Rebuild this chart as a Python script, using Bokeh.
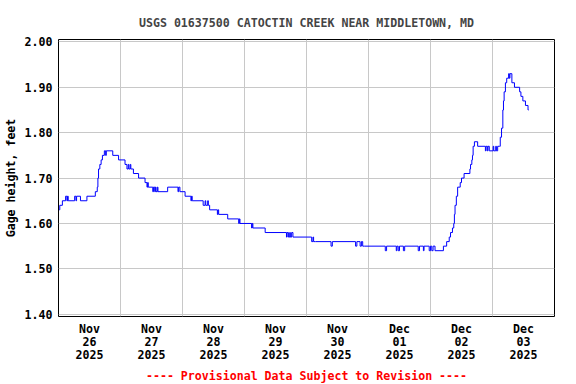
from bokeh.plotting import figure
from bokeh.models import FixedTicker, Title, NumeralTickFormatter, Range1d
from bokeh.embed import file_html
from bokeh.resources import INLINE

# hours since 2025-11-26 00:00 and gage height (ft), step series
hours = [0.25, 0.5, 1.5, 2.75, 3.25, 3.5, 3.75, 6.25, 6.75, 7.0, 8.5, 11.0, 14.25,
         15.0, 15.25, 15.5, 16.0, 16.5, 17.0, 17.75, 18.25, 18.5, 21.0, 23.25,
         25.75, 26.5, 27.0, 27.25, 27.75, 28.0, 29.0, 31.0, 33.5, 34.25, 34.5, 34.75,
         36.5, 36.75, 37.25, 37.5, 37.75, 38.25, 38.5, 42.25, 46.25, 46.5, 47.0,
         49.0, 51.25, 51.5, 51.75, 56.0, 56.75, 57.0, 57.75, 58.0, 58.5, 61.5, 61.75,
         62.0, 65.5, 69.75, 70.0, 70.25, 74.75, 75.0, 75.25, 80.0, 88.25, 88.5, 89.0,
         89.5, 89.75, 90.25, 90.75, 98.0, 98.5, 98.75, 99.5, 105.5, 106.0, 115.0, 115.5,
         116.75, 117.25, 117.75, 118.5, 126.5, 127.0, 130.75, 131.0, 131.5, 132.0,
         133.5, 134.0, 139.25, 139.75, 141.25, 141.5, 143.5, 144.0, 144.5, 145.0,
         145.75, 149.0, 150.25, 151.25, 151.75, 152.5, 153.0, 153.25, 153.5, 154.0,
         154.5, 155.5, 156.0, 157.0, 159.25, 159.5, 160.0, 160.25, 160.5, 161.0,
         162.25, 165.25, 165.5, 166.0, 166.25, 166.75, 168.25, 168.5, 169.25, 169.5,
         170.0, 170.75, 171.0, 171.5, 172.0, 172.25, 172.5, 173.0, 173.5, 174.25,
         174.5, 174.75, 175.5, 176.5, 178.5, 179.0, 179.75, 180.75, 181.75, 182.0]
gage = [1.63, 1.64, 1.65, 1.66, 1.65, 1.66, 1.65, 1.66, 1.65, 1.66, 1.65, 1.66, 1.67,
        1.68, 1.70, 1.72, 1.73, 1.74, 1.75, 1.76, 1.75, 1.76, 1.75, 1.74,
        1.73, 1.72, 1.73, 1.72, 1.73, 1.72, 1.71, 1.70, 1.69, 1.68, 1.69, 1.68,
        1.67, 1.68, 1.67, 1.68, 1.67, 1.68, 1.67, 1.68, 1.67, 1.68, 1.67,
        1.66, 1.65, 1.66, 1.65, 1.64, 1.65, 1.64, 1.65, 1.64, 1.63, 1.62, 1.63,
        1.62, 1.61, 1.60, 1.61, 1.60, 1.59, 1.60, 1.59, 1.58, 1.57, 1.58, 1.57,
        1.58, 1.57, 1.58, 1.57, 1.56, 1.57, 1.56, 1.56, 1.55, 1.56, 1.55, 1.56,
        1.55, 1.56, 1.55, 1.55, 1.54, 1.55, 1.54, 1.55, 1.54, 1.55,
        1.54, 1.55, 1.54, 1.55, 1.54, 1.55, 1.54, 1.55, 1.54, 1.55,
        1.54, 1.55, 1.56, 1.57, 1.58, 1.59, 1.60, 1.62, 1.64, 1.66,
        1.68, 1.69, 1.70, 1.71, 1.72, 1.73, 1.74, 1.75, 1.77, 1.78,
        1.77, 1.76, 1.77, 1.76, 1.77, 1.76, 1.77, 1.76, 1.77, 1.76,
        1.77, 1.77, 1.79, 1.81, 1.85, 1.87, 1.89, 1.91, 1.92, 1.93,
        1.92, 1.93, 1.91, 1.90, 1.89, 1.88, 1.87, 1.86, 1.85, 1.85]

day_labels = ["Nov\n26\n2025", "Nov\n27\n2025", "Nov\n28\n2025", "Nov\n29\n2025",
              "Nov\n30\n2025", "Dec\n01\n2025", "Dec\n02\n2025", "Dec\n03\n2025"]
y_ticks = [1.40, 1.50, 1.60, 1.70, 1.80, 1.90, 2.00]

FONT = "DejaVu Sans Mono"
FS = "11.6px"

p = figure(frame_width=496, frame_height=277,
           output_backend="svg", toolbar_location=None,
           x_range=Range1d(0, 192), y_range=Range1d(1.395, 2.0053),
           min_border_left=52, min_border_right=12, min_border_top=39, min_border_bottom=0)

p.title.text = "USGS 01637500 CATOCTIN CREEK NEAR MIDDLETOWN, MD"
p.title.align = "center"
p.title.text_font = FONT
p.title.text_font_size = FS
p.title.text_font_style = "bold"
p.title.offset = 0
p.title.standoff = 20

p.step(hours, gage, mode="after", line_color="#0000ff", line_width=1)

tick_pos = [12 + 24 * i for i in range(len(day_labels))]
p.xaxis.ticker = FixedTicker(ticks=tick_pos)
p.xaxis.major_label_overrides = {t: lab for t, lab in zip(tick_pos, day_labels)}
p.xgrid.ticker = FixedTicker(ticks=[24 * i for i in range(1, 8)])
p.yaxis.ticker = FixedTicker(ticks=y_ticks)
p.yaxis.formatter = NumeralTickFormatter(format="0.00")
p.yaxis.axis_label = "Gage height, feet"

for ax in (p.xaxis[0], p.yaxis[0]):
    ax.axis_line_color = None
    ax.major_tick_line_color = None
    ax.minor_tick_line_color = None
    ax.major_tick_out = 0
    ax.major_tick_in = 0
    ax.minor_tick_out = 0
    ax.minor_tick_in = 0
    ax.major_label_text_font = FONT
    ax.major_label_text_font_size = FS
    ax.major_label_text_font_style = "bold"
    ax.major_label_text_color = "black"
    ax.axis_label_text_font = FONT
    ax.axis_label_text_font_size = FS
    ax.axis_label_text_font_style = "bold"
    ax.axis_label_text_color = "black"
p.xaxis.major_label_standoff = 5
p.xaxis.major_label_text_line_height = 0.95
p.yaxis.major_label_standoff = 6
p.yaxis.axis_label_standoff = 4

p.xgrid.grid_line_color = "#c8c8c8"
p.ygrid.grid_line_color = "#c8c8c8"
p.outline_line_color = "black"
p.outline_line_width = 1
p.outline_line_alpha = 1
p.background_fill_color = "white"
p.border_fill_color = "white"

p.add_layout(Title(text="---- Provisional Data Subject to Revision ----", align="center",
                   text_color="red", text_font=FONT, text_font_size=FS,
                   text_font_style="bold", standoff=3), "below")

open("out.html", "w").write(file_html(p, INLINE))
